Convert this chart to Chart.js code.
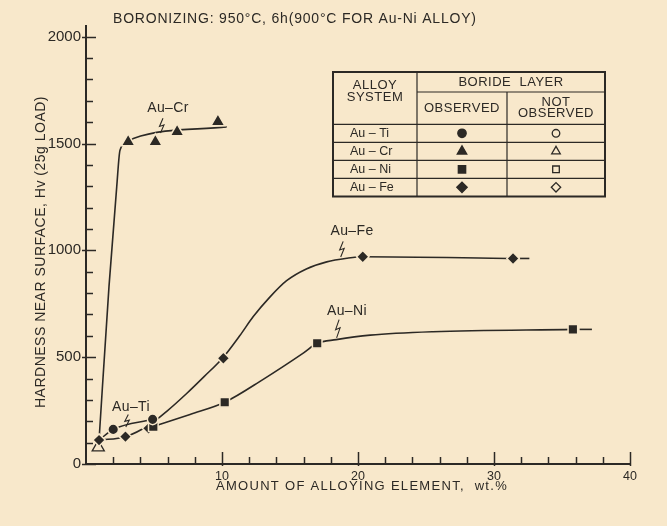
<!DOCTYPE html>
<html><head><meta charset="utf-8">
<script src="https://cdn.jsdelivr.net/npm/chart.js@4.4.1/dist/chart.umd.min.js"></script>
<style>html,body{margin:0;padding:0;background:#f8e8cb;}canvas{display:block;}</style>
</head><body>
<canvas id="c" width="667" height="526"></canvas>
<script>
// ---- observed data points (boride layer observed = filled markers) ----
const tiX = [2.0, 4.9];                       const tiY = [162, 209];
const crX = [3.1, 5.1, 6.7, 9.7];             const crY = [1508, 1508, 1555, 1602];
const niX = [4.95, 10.2, 17.0, 35.8];         const niY = [175, 289, 565, 630];
const feX = [0.96, 2.9, 4.6, 10.1, 20.35, 31.4]; const feY = [112, 128, 167, 495, 970, 962];
// boride layer not observed (open marker)
const crOpenX = [0.9];                        const crOpenY = [78];
// ---- hand-drawn trend curves ----
const tiCurveX = [0.96, 2.0, 4.9];            const tiCurveY = [112, 162, 209];
const crCurveX = [0.96, 1.69, 2.26, 2.5, 3.1, 3.48, 10.34];
const crCurveY = [112, 830, 1298, 1469, 1508, 1524, 1578];
const feCurveX = [0.96, 2.9, 4.7, 6.0, 7.4, 8.7, 10.1, 11.3, 12.3, 13.5, 14.75, 16.2, 17.7, 19.2, 20.35, 31.4];
const feCurveY = [112, 128, 185, 250, 330, 410, 500, 600, 690, 780, 858, 913, 946, 963, 970, 962];
const feTailX = [31.9, 32.6];                 const feTailY = [962, 962];
const niCurveX = [4.95, 7.65, 10.2, 13.0, 16.0, 17.0, 18.4, 20.9, 25.5, 35.8];
const niCurveY = [175, 232, 289, 395, 520, 565, 582, 603, 619, 630];
const niTailX = [36.3, 37.2];                 const niTailY = [630, 630];
// ---- tick labels ----
const xTickLabels = [10, 20, 30, 40];
const yTickLabels = [0, 500, 1000, 1500, 2000];
// ---- curve labels ----
const curveNames = ['Au–Cr', 'Au–Fe', 'Au–Ni', 'Au–Ti'];
const legendRows = ['Au – Ti', 'Au – Cr', 'Au – Ni', 'Au – Fe'];

const BG = '#f8e8cb', INK = '#2c2925';
const FONT = '"Liberation Sans", Arial, Helvetica, sans-serif';
const pts = (xs, ys) => xs.map((v, i) => ({x: v, y: ys[i]}));

const labelCfg = {
  text: curveNames,
  x: [6.03, 19.56, 19.19, 3.31], y: [1666, 1090, 716, 267],
  leadX: [5.55, 18.8, 18.5, 3.0], leadTop: [1618, 1042, 676, 232], leadBot: [1549, 969, 590, 173]
};

function marker(data, style, r, filled, extra) {
  return Object.assign({
    data, showLine: false, order: 0, pointStyle: style, pointRadius: r, pointHoverRadius: r,
    pointBackgroundColor: filled ? INK : BG, pointBorderColor: filled ? BG : INK,
    pointBorderWidth: filled ? 1.5 : 1.3
  }, extra || {});
}
function curve(data) {
  return { data, showLine: true, order: 1, pointRadius: 0, pointHoverRadius: 0,
    borderColor: INK, borderWidth: 1.6, cubicInterpolationMode: 'monotone', fill: false };
}

function drawLeader(ctx, x, top, bot) {
  const h = bot - top;
  ctx.beginPath();
  ctx.moveTo(x + 1.5, top);
  ctx.lineTo(x - 2, top + h * 0.55);
  ctx.lineTo(x + 2.5, top + h * 0.45);
  ctx.lineTo(x - 1, bot);
  ctx.stroke();
}

function pt(ctx, style, r, filled, px, py) {
  ctx.save();
  ctx.fillStyle = filled ? INK : BG; ctx.strokeStyle = INK; ctx.lineWidth = 1.3;
  Chart.helpers.drawPoint(ctx, {pointStyle: style, radius: r, borderWidth: 1.3, rotation: 0}, px, py);
  ctx.restore();
}
function setFont(ctx, size, spacing) {
  ctx.font = size + 'px ' + FONT;
  if ('letterSpacing' in ctx) ctx.letterSpacing = (spacing || 0) + 'px';
}

const deco = {
  id: 'deco',
  beforeDraw(chart) {
    const c = chart.ctx; c.save(); c.fillStyle = BG; c.fillRect(0, 0, chart.width, chart.height); c.restore();
  },
  afterDraw(chart) {
    const ctx = chart.ctx, xs = chart.scales.x, ys = chart.scales.y;
    ctx.save();
    ctx.strokeStyle = INK; ctx.fillStyle = INK; ctx.lineWidth = 1.5;
    // y ticks
    for (let v = 0; v <= 2000; v += 100) {
      const py = Math.round(ys.getPixelForValue(v)) + 0.5, major = v % 500 === 0;
      ctx.beginPath(); ctx.moveTo(xs.left - (major ? 4 : 0), py); ctx.lineTo(xs.left + (major ? 10 : 7), py); ctx.stroke();
    }
    // x ticks
    for (let v = 2; v <= 40; v += 2) {
      const px = Math.round(xs.getPixelForValue(v)) + 0.5, major = v % 10 === 0;
      ctx.beginPath(); ctx.moveTo(px, ys.bottom + (major ? 2 : 0)); ctx.lineTo(px, ys.bottom - (major ? 12 : 7)); ctx.stroke();
    }
    // titles
    ctx.textBaseline = 'middle';
    setFont(ctx, 14, 0.8); ctx.textAlign = 'left';
    ctx.fillText('BORONIZING: 950°C, 6h(900°C FOR Au-Ni ALLOY)', 113, 19);
    setFont(ctx, 13, 1.3); ctx.textAlign = 'center';
    ctx.fillText('AMOUNT OF ALLOYING ELEMENT,  wt.%', 362, 486);
    ctx.save(); ctx.translate(41, 252); ctx.rotate(-Math.PI / 2);
    setFont(ctx, 14, 0.5); ctx.fillText('HARDNESS NEAR SURFACE, Hv (25g LOAD)', 0, 0); ctx.restore();
    // curve labels with leaders
    setFont(ctx, 14, 0.4); ctx.lineWidth = 1.1;
    for (let i = 0; i < labelCfg.text.length; i++) {
      ctx.fillText(labelCfg.text[i], xs.getPixelForValue(labelCfg.x[i]), ys.getPixelForValue(labelCfg.y[i]));
      drawLeader(ctx, xs.getPixelForValue(labelCfg.leadX[i]), ys.getPixelForValue(labelCfg.leadTop[i]), ys.getPixelForValue(labelCfg.leadBot[i]));
    }
    // legend table
    const L = 333, R = 605, T = 72, B = 196.5, c1 = 417, c2 = 507, h1 = 92, h2 = 124.3, rh = 18;
    ctx.lineWidth = 2; ctx.strokeRect(L, T, R - L, B - T);
    ctx.lineWidth = 1.2;
    const line = (x1, y1, x2, y2) => { ctx.beginPath(); ctx.moveTo(x1, y1); ctx.lineTo(x2, y2); ctx.stroke(); };
    line(c1, T, c1, B); line(c2, h1, c2, B); line(c1, h1, R, h1); line(L, h2, R, h2);
    for (let k = 1; k < 4; k++) line(L, h2 + k * rh, R, h2 + k * rh);
    setFont(ctx, 13, 0.5); ctx.textAlign = 'center';
    ctx.fillText('ALLOY', (L + c1) / 2, 85.5); ctx.fillText('SYSTEM', (L + c1) / 2, 97.5);
    ctx.fillText('BORIDE  LAYER', (c1 + R) / 2, 82.5);
    ctx.fillText('OBSERVED', (c1 + c2) / 2, 108.5);
    ctx.fillText('NOT', (c2 + R) / 2, 102); ctx.fillText('OBSERVED', (c2 + R) / 2, 113.5);
    const styles = [['circle', 4.2], ['triangle', 5.5], ['rect', 5.2], ['rectRot', 5.2]];
    ctx.textAlign = 'left'; setFont(ctx, 12.5, 0);
    for (let k = 0; k < 4; k++) {
      const cy = h2 + k * rh + rh / 2;
      ctx.fillStyle = INK; ctx.fillText(legendRows[k], 350, cy + 0.5);
      pt(ctx, styles[k][0], styles[k][1], true, (c1 + c2) / 2, cy);
      pt(ctx, styles[k][0], styles[k][1] * 0.9, false, (c2 + R) / 2, cy);
    }
    ctx.restore();
  }
};

new Chart(document.getElementById('c'), {
  type: 'scatter',
  data: { datasets: [
    marker(pts(tiX, tiY), 'circle', 5.3, true),
    marker(pts(crX, crY), 'triangle', 8, true),
    marker(pts(niX, niY), 'rect', 6.8, true),
    marker(pts(feX, feY), 'rectRot', 6.2, true),
    marker(pts(crOpenX, crOpenY), 'triangle', 7, false),
    curve(pts(tiCurveX, tiCurveY)),
    curve(pts(crCurveX, crCurveY)),
    curve(pts(feCurveX, feCurveY)),
    curve(pts(feTailX, feTailY)),
    curve(pts(niCurveX, niCurveY)),
    curve(pts(niTailX, niTailY))
  ]},
  options: {
    responsive: false, animation: false, devicePixelRatio: 1,
    layout: { padding: { top: 26, right: 37, left: 0, bottom: 0 } },
    plugins: { legend: { display: false }, tooltip: { enabled: false } },
    scales: {
      x: { type: 'linear', min: 0, max: 40, position: 'bottom',
        afterFit(s) { s.height = 62; },
        afterBuildTicks(s) { s.ticks = xTickLabels.map(v => ({ value: v })); },
        grid: { display: false, drawTicks: false },
        border: { display: true, color: INK, width: 2 },
        ticks: { color: INK, font: { family: FONT, size: 12.5 }, padding: 5, maxRotation: 0, autoSkip: false,
          callback: v => String(v) } },
      y: { type: 'linear', min: 0, max: 2050, position: 'left',
        afterFit(s) { s.width = 86; },
        afterBuildTicks(s) { s.ticks = yTickLabels.map(v => ({ value: v })); },
        grid: { display: false, drawTicks: false },
        border: { display: true, color: INK, width: 2 },
        ticks: { color: INK, font: { family: FONT, size: 15 }, padding: 5, autoSkip: false,
          callback: v => String(v) } }
    }
  },
  plugins: [deco]
});
</script>
</body></html>
